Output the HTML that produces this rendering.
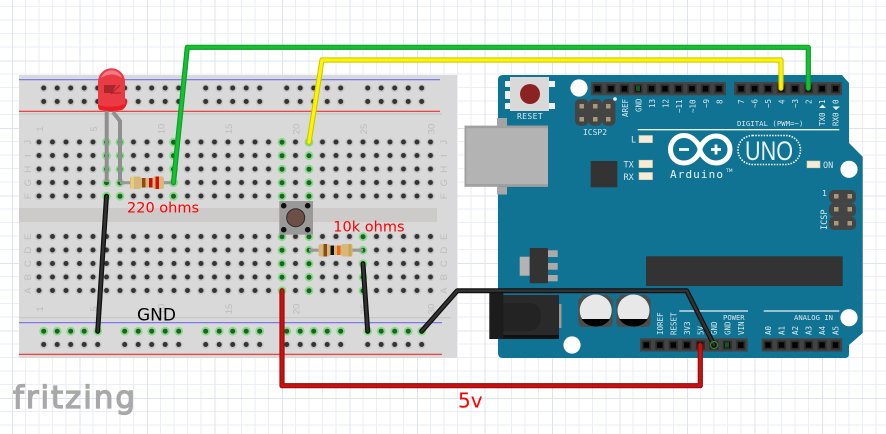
<!DOCTYPE html>
<html><head><meta charset="utf-8"><style>
html,body{margin:0;padding:0;background:#fff;width:886px;height:434px;overflow:hidden}
svg{display:block}
.pl{font-family:"DejaVu Sans Mono","Liberation Mono",monospace;font-size:7.5px;fill:#dbe8ee}
.bn{font-family:"Liberation Sans",sans-serif;font-size:9.5px;fill:#bdbdbd}
.r{font-family:"DejaVu Sans",sans-serif;fill:#f00}
</style></head><body>
<svg width="886" height="434" viewBox="0 0 886 434" xmlns="http://www.w3.org/2000/svg">
<defs>
<pattern id="grid" patternUnits="userSpaceOnUse" x="12" y="60.5" width="67.5" height="67.5">
<g stroke="#ebeef4" stroke-width="1">
<path d="M13.5 0V67.5M27 0V67.5M40.5 0V67.5M54 0V67.5M0 13.5H67.5M0 27H67.5M0 40.5H67.5M0 54H67.5"/>
</g>
<path d="M0.5 0V67.5M0 0.5H67.5" stroke="#dfe3ec" stroke-width="1"/>
</pattern>
<pattern id="h1" patternUnits="userSpaceOnUse" x="32.25" y="135.5" width="13.5" height="13.5">
<circle cx="6.75" cy="6.75" r="3.9" fill="#c4c4c4"/><circle cx="6.75" cy="6.5" r="2.5" fill="#333"/>
</pattern>
<pattern id="h2" patternUnits="userSpaceOnUse" x="32.25" y="230" width="13.5" height="13.5">
<circle cx="6.75" cy="6.75" r="3.9" fill="#c4c4c4"/><circle cx="6.75" cy="6.5" r="2.5" fill="#333"/>
</pattern>
<pattern id="h3" patternUnits="userSpaceOnUse" x="36.95" y="81.5" width="13.5" height="13.5">
<circle cx="6.75" cy="6.75" r="3.9" fill="#c4c4c4"/><circle cx="6.75" cy="6.5" r="2.5" fill="#333"/>
</pattern>
<pattern id="h4" patternUnits="userSpaceOnUse" x="36.95" y="324.5" width="13.5" height="13.5">
<circle cx="6.75" cy="6.75" r="3.9" fill="#c4c4c4"/><circle cx="6.75" cy="6.5" r="2.5" fill="#333"/>
</pattern>
<g id="g"><circle r="4.4" fill="#84dc84"/><circle r="2.5" fill="#245c2c"/></g>
<pattern id="p1" patternUnits="userSpaceOnUse" x="590.75" y="82" width="13.5" height="13.5">
<rect x="2.2" y="2.2" width="9.1" height="9.1" fill="#2c2c2c"/><rect x="4" y="4" width="5.5" height="5.5" fill="#000"/>
</pattern>
<pattern id="p2" patternUnits="userSpaceOnUse" x="734.3" y="82" width="13.5" height="13.5">
<rect x="2.2" y="2.2" width="9.1" height="9.1" fill="#2c2c2c"/><rect x="4" y="4" width="5.5" height="5.5" fill="#000"/>
</pattern>
<pattern id="p3" patternUnits="userSpaceOnUse" x="639.55" y="338.3" width="13.5" height="13.5">
<rect x="2.2" y="2.2" width="9.1" height="9.1" fill="#2c2c2c"/><rect x="4" y="4" width="5.5" height="5.5" fill="#000"/>
</pattern>
<pattern id="p4" patternUnits="userSpaceOnUse" x="761.25" y="338.3" width="13.5" height="13.5">
<rect x="2.2" y="2.2" width="9.1" height="9.1" fill="#2c2c2c"/><rect x="4" y="4" width="5.5" height="5.5" fill="#000"/>
</pattern>
</defs>

<rect width="886" height="434" fill="#fff"/>
<rect width="886" height="434" fill="url(#grid)"/>

<!-- breadboard -->
<rect x="19" y="75" width="438" height="283" fill="#d9d9d9"/>
<rect x="19" y="208" width="418" height="14" fill="#cdcbc9"/>
<path d="M19 114H442M19 317.7H451" stroke="#c6c6c6" stroke-width="1.2"/>
<path d="M19 79.7H440M19 322.7H442" stroke="#6f6ff0" stroke-width="1.2"/>
<path d="M19 111.3H440M19 354.3H442" stroke="#f03030" stroke-width="1.2"/>
<rect x="32.25" y="135.5" width="405" height="67.5" fill="url(#h1)"/>
<rect x="32.25" y="230" width="405" height="67.5" fill="url(#h2)"/>
<g fill="url(#h3)">
<rect x="36.95" y="81.5" width="67.5" height="27"/><rect x="117.95" y="81.5" width="67.5" height="27"/><rect x="198.95" y="81.5" width="67.5" height="27"/><rect x="279.95" y="81.5" width="67.5" height="27"/><rect x="360.95" y="81.5" width="67.5" height="27"/>
</g>
<g fill="url(#h4)">
<rect x="36.95" y="324.5" width="67.5" height="27"/><rect x="117.95" y="324.5" width="67.5" height="27"/><rect x="198.95" y="324.5" width="67.5" height="27"/><rect x="279.95" y="324.5" width="67.5" height="27"/><rect x="360.95" y="324.5" width="67.5" height="27"/>
</g>
<!-- numbers -->
<g class="bn" text-anchor="middle">
<text transform="translate(43,129) rotate(-90)">1</text><text transform="translate(97,129) rotate(-90)">5</text><text transform="translate(164.5,129) rotate(-90)">10</text><text transform="translate(232,129) rotate(-90)">15</text><text transform="translate(299.5,129) rotate(-90)">20</text><text transform="translate(367,129) rotate(-90)">25</text><text transform="translate(434.5,129) rotate(-90)">30</text>
<text transform="translate(43,309) rotate(-90)">1</text><text transform="translate(97,309) rotate(-90)">5</text><text transform="translate(164.5,309) rotate(-90)">10</text><text transform="translate(232,309) rotate(-90)">15</text><text transform="translate(299.5,309) rotate(-90)">20</text><text transform="translate(367,309) rotate(-90)">25</text><text transform="translate(434.5,309) rotate(-90)">30</text>
<text transform="translate(31,142.2) rotate(-90)">J</text><text transform="translate(31,155.7) rotate(-90)">I</text><text transform="translate(31,169.2) rotate(-90)">H</text><text transform="translate(31,182.7) rotate(-90)">G</text><text transform="translate(31,196.2) rotate(-90)">F</text>
<text transform="translate(31,236.7) rotate(-90)">E</text><text transform="translate(31,250.2) rotate(-90)">D</text><text transform="translate(31,263.7) rotate(-90)">C</text><text transform="translate(31,277.2) rotate(-90)">B</text><text transform="translate(31,290.7) rotate(-90)">A</text>
<text transform="translate(447,142.2) rotate(-90)">J</text><text transform="translate(447,155.7) rotate(-90)">I</text><text transform="translate(447,169.2) rotate(-90)">H</text><text transform="translate(447,182.7) rotate(-90)">G</text><text transform="translate(447,196.2) rotate(-90)">F</text>
<text transform="translate(447,236.7) rotate(-90)">E</text><text transform="translate(447,250.2) rotate(-90)">D</text><text transform="translate(447,263.7) rotate(-90)">C</text><text transform="translate(447,277.2) rotate(-90)">B</text><text transform="translate(447,290.7) rotate(-90)">A</text>
</g>
<!-- green holes -->
<use href="#g" x="106.5" y="142.2"/><use href="#g" x="106.5" y="155.7"/><use href="#g" x="106.5" y="169.2"/><use href="#g" x="106.5" y="182.7"/><use href="#g" x="106.5" y="196.2"/>
<use href="#g" x="120" y="142.2"/><use href="#g" x="120" y="155.7"/><use href="#g" x="120" y="169.2"/><use href="#g" x="120" y="182.7"/><use href="#g" x="120" y="196.2"/>
<use href="#g" x="173.5" y="142.2"/><use href="#g" x="173.5" y="155.7"/><use href="#g" x="173.5" y="169.2"/><use href="#g" x="173.5" y="182.7"/><use href="#g" x="173.5" y="196.2"/>
<use href="#g" x="282" y="142.2"/><use href="#g" x="282" y="155.7"/><use href="#g" x="282" y="169.2"/><use href="#g" x="282" y="182.7"/><use href="#g" x="282" y="196.2"/>
<use href="#g" x="309" y="142.2"/><use href="#g" x="309" y="155.7"/><use href="#g" x="309" y="169.2"/><use href="#g" x="309" y="182.7"/><use href="#g" x="309" y="196.2"/>
<use href="#g" x="282" y="236.7"/><use href="#g" x="282" y="250.2"/><use href="#g" x="282" y="263.7"/><use href="#g" x="282" y="277.2"/><use href="#g" x="282" y="290.7"/>
<use href="#g" x="309" y="236.7"/><use href="#g" x="309" y="250.2"/><use href="#g" x="309" y="263.7"/><use href="#g" x="309" y="277.2"/><use href="#g" x="309" y="290.7"/>
<use href="#g" x="363" y="236.7"/><use href="#g" x="363" y="250.2"/><use href="#g" x="363" y="263.7"/><use href="#g" x="363" y="277.2"/><use href="#g" x="363" y="290.7"/>
<use href="#g" x="43.7" y="331.2"/><use href="#g" x="57.2" y="331.2"/><use href="#g" x="70.7" y="331.2"/><use href="#g" x="84.2" y="331.2"/><use href="#g" x="97.7" y="331.2"/>
<use href="#g" x="124.7" y="331.2"/><use href="#g" x="138.2" y="331.2"/><use href="#g" x="151.7" y="331.2"/><use href="#g" x="165.2" y="331.2"/><use href="#g" x="178.7" y="331.2"/>
<use href="#g" x="205.7" y="331.2"/><use href="#g" x="219.2" y="331.2"/><use href="#g" x="232.7" y="331.2"/><use href="#g" x="246.2" y="331.2"/><use href="#g" x="259.7" y="331.2"/>
<use href="#g" x="286.7" y="331.2"/><use href="#g" x="300.2" y="331.2"/><use href="#g" x="313.7" y="331.2"/><use href="#g" x="327.2" y="331.2"/><use href="#g" x="340.7" y="331.2"/>
<use href="#g" x="367.7" y="331.2"/><use href="#g" x="381.2" y="331.2"/><use href="#g" x="394.7" y="331.2"/><use href="#g" x="408.2" y="331.2"/><use href="#g" x="421.7" y="331.2"/>

<!-- resistors -->
<path d="M120 182.7H173.5" stroke="#999" stroke-width="3.2"/>
<path d="M130 179q0-2.5 2.5-2.5h6q2 0 3 1.5h11q1-1.5 3-1.5h6q2.5 0 2.5 2.5v7.5q0 2.5-2.5 2.5h-6q-2 0-3-1.5h-11q-1 1.5-3 1.5h-6q-2.5 0-2.5-2.5z" fill="#d8b77a"/>
<rect x="131" y="176.5" width="3" height="12.5" fill="#e6cf7a"/><rect x="142" y="178" width="3.5" height="9.5" fill="#8a4b14"/><rect x="149" y="178" width="3.5" height="9.5" fill="#c41010"/><rect x="155.5" y="176.5" width="3.5" height="12.5" fill="#d80c0c"/>
<path d="M309 250.2H363" stroke="#999" stroke-width="3.2"/>
<path d="M318.5 246.5q0-2.5 2.5-2.5h6q2 0 3 1.5h11q1-1.5 3-1.5h6q2.5 0 2.5 2.5v7.5q0 2.5-2.5 2.5h-6q-2 0-3-1.5h-11q-1 1.5-3 1.5h-6q-2.5 0-2.5-2.500z" fill="#d8b77a"/>
<rect x="323.5" y="244" width="3.5" height="12.5" fill="#8a4b14"/><rect x="330.5" y="245.5" width="3.5" height="9.5" fill="#111"/><rect x="337" y="245.5" width="3.5" height="9.5" fill="#f0660f"/><rect x="348.5" y="244" width="3" height="12.5" fill="#c9a84a"/>

<!-- button -->
<rect x="279.3" y="201" width="33.7" height="33.7" fill="#999"/>
<circle cx="295.7" cy="217.7" r="9" fill="#6e4f47" stroke="#2b2b2b" stroke-width="1"/>
<circle cx="283.7" cy="205.7" r="2.8" fill="#111"/><circle cx="307.7" cy="205.7" r="2.8" fill="#111"/><circle cx="283.7" cy="229.7" r="2.8" fill="#111"/><circle cx="307.7" cy="229.7" r="2.8" fill="#111"/>

<!-- LED -->
<path d="M106.7 110V182" stroke="#8f8f8f" stroke-width="4" fill="none"/>
<path d="M113 112L120 121V182" stroke="#8f8f8f" stroke-width="4" fill="none"/>
<path d="M98 100H122Q127 97 127 101Q127 107 122 110Q111 112 100 110Q98 109 98 106Z" fill="#ea1c24"/>
<path d="M98 105V82A13.5 13.8 0 0 1 125 82V104Q111 109 98 105Z" fill="#ea3a44"/>
<path d="M101 78A11 11 0 0 1 122 78Q112 71 101 78Z" fill="#f27a82"/>
<path d="M104 85H116L112 93H104Z" fill="#a8272d"/>
<path d="M120 85L111 94M112 93H121" stroke="#a8272d" stroke-width="1.2" fill="none"/>

<!-- arduino -->
<path d="M503 75H842L849 83V143L862.7 156.7V333L849 345V354Q849 358 845 358H503Q498 358 498 353V80Q498 75 503 75Z" fill="#107394"/>
<g fill="#fff"><circle cx="579" cy="88" r="8.6"/><circle cx="849" cy="169.3" r="8.6"/><circle cx="572" cy="345" r="8.6"/><circle cx="849" cy="317.7" r="8.6"/></g>

<!-- USB -->
<rect x="497" y="118" width="10" height="8" fill="#a3a3a3"/><rect x="497" y="187" width="10" height="7.5" fill="#a8a8a8"/>
<rect x="464.5" y="125.7" width="83.5" height="61" fill="#b3b3b3"/>
<rect x="464.5" y="125.7" width="83.500" height="2.500" fill="#a0a0a0"/><rect x="464.5" y="184" width="83.500" height="2.700" fill="#a0a0a0"/><rect x="464.5" y="125.7" width="2" height="61" fill="#a0a0a0"/>

<!-- reset -->
<path d="M505 81h6v6h-6zM505 103h6v6h-6zM549 81h6v6h-6zM549 103h6v6h-6zM505 91h6v8h-6z" fill="#f0f0f0"/>
<rect x="510" y="77" width="39" height="34" fill="#d9d9d9"/>
<circle cx="530" cy="94" r="10" fill="#8c2323"/>
<text x="530" y="119" text-anchor="middle" class="pl" style="letter-spacing:.4px;font-size:8px">RESET</text>

<!-- headers -->
<rect x="591" y="82" width="135" height="13.3" fill="#444"/><rect x="590.75" y="82" width="135" height="13.5" fill="url(#p1)"/>
<rect x="734" y="82" width="108" height="13.3" fill="#444"/><rect x="734.3" y="82" width="108" height="13.5" fill="url(#p2)"/>
<rect x="640" y="338.3" width="107.7" height="13.3" fill="#444"/><rect x="639.55" y="338.3" width="108" height="13.5" fill="url(#p3)"/>
<rect x="761.7" y="338.3" width="80.5" height="13.3" fill="#444"/><rect x="761.25" y="338.3" width="81" height="13.5" fill="url(#p4)"/>
<rect x="636" y="86" width="4" height="5" fill="#0e5a1c"/><rect x="725" y="342.5" width="4" height="5" fill="#0e5a1c"/>

<!-- ICSP2 -->
<g fill="#444"><rect x="575" y="99" width="13.5" height="26.7" rx="5"/><rect x="588.5" y="99" width="13.5" height="26.7" rx="5"/><rect x="602" y="99" width="13.5" height="26.7" rx="5"/></g>
<g fill="#a69a78"><rect x="579.5" y="104" width="4.5" height="4.5"/><rect x="593" y="104" width="4.5" height="4.5"/><rect x="606" y="104" width="4.5" height="4.5"/><rect x="579.5" y="117" width="4.5" height="4.5"/><rect x="593" y="117" width="4.5" height="4.5"/><rect x="606" y="117" width="4.5" height="4.5"/></g>
<circle cx="615" cy="99" r="1.8" fill="#fff"/>
<text x="595" y="135" text-anchor="middle" class="pl" style="font-size:8px">ICSP2</text>

<!-- ICSP -->
<g fill="#444"><rect x="829" y="190" width="27" height="13.3" rx="5"/><rect x="829" y="203.3" width="27" height="13.3" rx="5"/><rect x="829" y="216.6" width="27" height="13.3" rx="5"/></g>
<g fill="#a69a78"><rect x="834" y="194" width="4.5" height="4.5"/><rect x="847.5" y="194" width="4.5" height="4.5"/><rect x="834" y="207" width="4.5" height="4.5"/><rect x="847.5" y="207" width="4.5" height="4.5"/><rect x="834" y="221" width="4.5" height="4.5"/><rect x="847.5" y="221" width="4.5" height="4.5"/></g>
<text x="822" y="196" class="pl" style="font-size:8px">1</text>
<text transform="translate(827,230) rotate(-90)" class="pl" style="font-size:8.5px">ICSP</text>

<!-- LEDs -->
<g fill="#f3ecd9" stroke="#d9c99b" stroke-width=".6"><rect x="639" y="135.5" width="13.5" height="7.2"/><rect x="639" y="160.2" width="13.5" height="7.5"/><rect x="639" y="172.5" width="13.5" height="7.2"/><rect x="807" y="161" width="13" height="6.8"/></g>
<g class="pl" style="font-size:8.5px"><text x="631" y="142.5">L</text><text x="623.5" y="167.5">TX</text><text x="623.5" y="180">RX</text><text x="823" y="168">ON</text></g>

<rect x="590.7" y="161" width="26.6" height="26.3" fill="#333"/>

<!-- digital labels -->
<path d="M637.7 129.7H839.3M679.3 311H748M763.7 311H839.3" stroke="#e8f2f5" stroke-width="1.3"/>
<text x="737" y="126" class="pl" style="font-size:7.2px;letter-spacing:.1px">DIGITAL (PWM=~)</text>
<g class="pl">
<text transform="translate(628,117) rotate(-90)">AREF</text>
<text transform="translate(641.5,112) rotate(-90)">GND</text>
<text transform="translate(655,108) rotate(-90)">13</text>
<text transform="translate(668.5,108) rotate(-90)">12</text>
<text transform="translate(682,113) rotate(-90)">~11</text>
<text transform="translate(695.5,113) rotate(-90)">~10</text>
<text transform="translate(709,108) rotate(-90)">~9</text>
<text transform="translate(722.5,104) rotate(-90)">8</text>
<text transform="translate(744,104) rotate(-90)">7</text>
<text transform="translate(757.5,108) rotate(-90)">~6</text>
<text transform="translate(771,108) rotate(-90)">~5</text>
<text transform="translate(784.5,104) rotate(-90)">4</text>
<text transform="translate(798,108) rotate(-90)">~3</text>
<text transform="translate(811.5,104) rotate(-90)">2</text>
<text transform="translate(825,126) rotate(-90)">TX0</text>
<text transform="translate(825,104) rotate(-90)">1</text>
<text transform="translate(838.5,126) rotate(-90)">RX0</text>
<text transform="translate(838.5,104) rotate(-90)">0</text>
<text transform="translate(663,335) rotate(-90)">IOREF</text>
<text transform="translate(676.5,335) rotate(-90)">RESET</text>
<text transform="translate(690,335) rotate(-90)">3V3</text>
<text transform="translate(703.5,335) rotate(-90)">5V</text>
<text transform="translate(717,335) rotate(-90)">GND</text>
<text transform="translate(730.5,335) rotate(-90)">GND</text>
<text transform="translate(744,335) rotate(-90)">VIN</text>
<text transform="translate(771,335) rotate(-90)">A0</text>
<text transform="translate(784.5,335) rotate(-90)">A1</text>
<text transform="translate(798,335) rotate(-90)">A2</text>
<text transform="translate(811.5,335) rotate(-90)">A3</text>
<text transform="translate(825,335) rotate(-90)">A4</text>
<text transform="translate(838.5,335) rotate(-90)">A5</text>
</g>
<path d="M819 108H826L822.5 104.500ZM832.500 106.500H840L836 110Z" fill="#e8f2f5"/>
<text x="723" y="320" class="pl" style="font-size:7.2px">POWER</text>
<text x="794" y="320" class="pl" style="font-size:7.2px">ANALOG IN</text>

<!-- logo -->
<path d="M684 135.5C694 135.5 700 146 700 149.5C700 153 706 163 716 163C724 163 730 157 730 149.5C730 142 724 136 716 136C706 136 700 146 700 149.5C700 153 694 163 684 163C676 163 670.5 157 670.5 149.5C670.5 142 676 135.5 684 135.5Z" fill="none" stroke="#fff" stroke-width="5"/>
<path d="M679 149.5H689M711 149.5H721M716 144.5V154.5" stroke="#fff" stroke-width="2.8"/>
<text x="670" y="178" style="font-family:'DejaVu Sans Mono',monospace;font-size:11px;letter-spacing:1.1px;fill:#e8f2f5">Arduino</text>
<text x="726" y="172" style="font-family:'DejaVu Sans',sans-serif;font-size:4.5px;fill:#e8f2f5">TM</text>
<rect x="738" y="135.5" width="62.5" height="29" rx="14.5" fill="none" stroke="#fff" stroke-width="1.6" stroke-dasharray="1.5 1.3"/>
<text x="769" y="160" text-anchor="middle" textLength="48" lengthAdjust="spacingAndGlyphs" style="font-family:'Liberation Sans',sans-serif;font-size:27px;fill:#e8f2f5">UNO</text>

<!-- regulator -->
<rect x="519.7" y="256.7" width="10" height="19" fill="#b3b3b3"/>
<rect x="548" y="250.3" width="9.7" height="6.7" fill="#aaa"/><rect x="548" y="263" width="9.7" height="6.7" fill="#aaa"/><rect x="548" y="275" width="9.7" height="6.3" fill="#aaa"/>
<rect x="529.7" y="248" width="18.3" height="35.3" rx="1" fill="#333"/>
<rect x="646" y="256.3" width="196.7" height="29.7" fill="#333"/>

<!-- jack -->
<rect x="559" y="304" width="2.5" height="24" fill="#999"/>
<rect x="503" y="295" width="56" height="44" fill="#2a2a2a"/>
<rect x="503" y="335" width="56" height="4" fill="#111"/>
<path d="M503 303H528Q541 303 541 316Q541 331 528 331H503Z" fill="#232323"/>
<rect x="489.3" y="293" width="14" height="46" fill="#1c1c1c"/>

<!-- caps -->
<path d="M583 295H608L612.7 300V322Q612.7 327 607.5 327H583.5Q578.3 327 578.3 322V300Z" fill="#4d4d4d"/>
<path d="M621 295H646L650.7 300V322Q650.7 327 645.5 327H621.5Q616.3 327 616.3 322V300Z" fill="#4d4d4d"/>
<circle cx="595.7" cy="310.5" r="16" fill="#e8e8e8"/><circle cx="633.5" cy="310.5" r="16" fill="#e8e8e8"/>
<path d="M581.5 319H610Q605 326.5 595.7 326.5Q586.5 326.5 581.5 319Z" fill="#000"/>
<path d="M619.3 319H647.8Q642.8 326.5 633.5 326.5Q624.3 326.5 619.3 319Z" fill="#000"/>

<!-- wires -->
<g fill="none" stroke-linejoin="round" stroke-linecap="round">
<path d="M173.5 182.5L187.3 47.3H808.3V88.3" stroke="#0c9c28" stroke-width="5.2"/>
<path d="M173.5 182.5L187.3 47.3H808.3V88.3" stroke="#14c22f" stroke-width="3"/>
<path d="M309 142.2L322 60H781V88.3" stroke="#c8c400" stroke-width="5.2"/>
<path d="M309 142.2L322 60H781V88.3" stroke="#fdf500" stroke-width="3.2"/>
<path d="M106.5 196.2L97.7 331.2" stroke="#111" stroke-width="5"/><path d="M106.5 196.2L97.7 331.2" stroke="#333" stroke-width="2.4"/>
<path d="M363 263.7L367.7 331.2" stroke="#111" stroke-width="5"/><path d="M363 263.7L367.7 331.2" stroke="#333" stroke-width="2.4"/>
<path d="M421.7 331.2L457.3 290.7H686.7L714 345" stroke="#111" stroke-width="5"/><path d="M421.7 331.2L457.3 290.7H686.7L714 345" stroke="#333" stroke-width="2.4"/>
<path d="M282 290.7V385.7H700.3V345" stroke="#8f0d0d" stroke-width="5.2"/>
<path d="M282 290.7V385.7H700.3V345" stroke="#cb1010" stroke-width="3"/>
</g>
<circle cx="714" cy="345" r="3.5" fill="none" stroke="#2f8a2f" stroke-width="1.2"/>

<!-- annotations -->
<text x="127" y="212.7" class="r" style="font-size:14.5px">220 ohms</text>
<text x="333.3" y="231.7" class="r" style="font-size:14.5px">10k ohms</text>
<text x="137" y="320.7" style="font-family:'DejaVu Sans',sans-serif;font-size:17px;fill:#000">GND</text>
<text x="458" y="407.5" class="r" style="font-size:20px">5v</text>

<!-- fritzing -->
<text x="13" y="408" textLength="122" lengthAdjust="spacing" style="font-family:'DejaVu Sans',sans-serif;font-size:31px;fill:#a8a8a8;stroke:#a8a8a8;stroke-width:1.3px">fritzing</text>
</svg>
</body></html>
